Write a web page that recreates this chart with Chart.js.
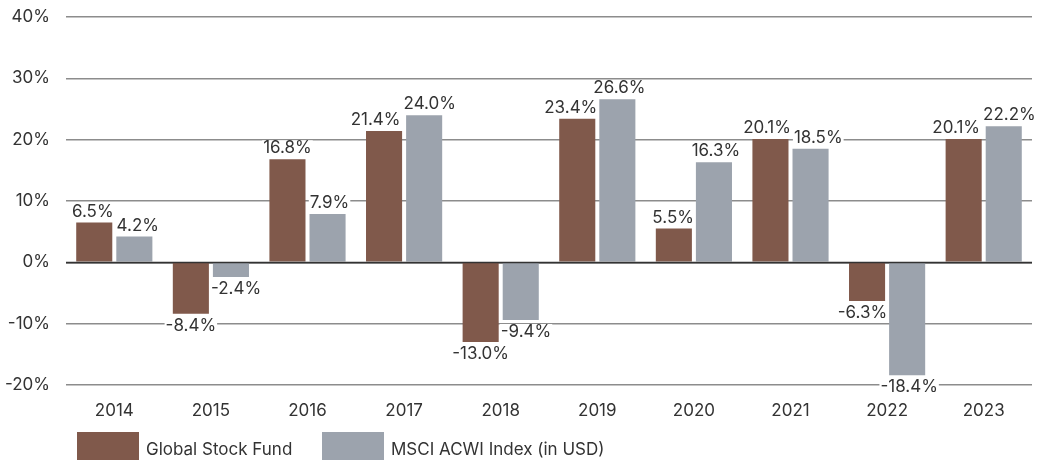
<!DOCTYPE html>
<html>
<head>
<meta charset="utf-8">
<script src="https://cdn.jsdelivr.net/npm/chart.js@4"></script>
<style>
  html, body { margin: 0; padding: 0; background: #fff; overflow: hidden; }
  #wrap { width: 1049px; height: 460px; }
</style>
</head>
<body>
<div id="wrap"><canvas id="charts"></canvas></div>
<script>
var years = ['2014', '2015', '2016', '2017', '2018', '2019', '2020', '2021', '2022', '2023'];
var fund = [6.5, -8.4, 16.8, 21.4, -13.0, 23.4, 5.5, 20.1, -6.3, 20.1];
var msci = [4.2, -2.4, 7.9, 24.0, -9.4, 26.6, 16.3, 18.5, -18.4, 22.2];
var seriesNames = ['Global Stock Fund', 'MSCI ACWI Index (in USD)'];

var FONT = 'Inter, "Liberation Sans", Arial, sans-serif';
var FS = 17;
var TEXT = '#333333';

function barRect(b) {
    return {
        l: b.x - b.width / 2, r: b.x + b.width / 2,
        t: Math.min(b.y, b.base), b: Math.max(b.y, b.base)
    };
}
function vOverlap(a, b) { return a.t < b.b && b.t < a.b; }

// value labels with a white box behind (they cut the grid lines)
var valueLabels = {
    id: 'valueLabels',
    afterDatasetsDraw: function (chart) {
        var c = chart.ctx;
        var y = chart.scales.y;
        var area = chart.chartArea;
        // zero line over the bars
        var z = Math.round(y.getPixelForValue(0)) + 0.5;
        c.save();
        c.strokeStyle = '#333';
        c.lineWidth = 1.5;
        c.beginPath();
        c.moveTo(area.left, z);
        c.lineTo(area.right, z);
        c.stroke();

        c.font = FS + 'px ' + FONT;
        c.textAlign = 'center';
        c.textBaseline = 'middle';
        var m0 = chart.getDatasetMeta(0), m1 = chart.getDatasetMeta(1);
        years.forEach(function (yr, i) {
            var bars = [m0.data[i], m1.data[i]];
            var vals = [fund[i], msci[i]];
            var labs = bars.map(function (b, k) {
                var txt = vals[k].toFixed(1) + '%';
                var w = c.measureText(txt).width;
                var ty = vals[k] >= 0 ? b.y - 11 : b.y + 12;
                return { txt: txt, w: w, x: b.x + (k === 1 ? 2 : 0), ty: ty, t: ty - 8, b: ty + 8 };
            });
            var r0 = barRect(bars[0]), r1 = barRect(bars[1]);
            // keep labels off the neighbouring bar
            var L0 = labs[0], L1 = labs[1];
            if (vOverlap(L0, r1) && L0.x + L0.w / 2 > r1.l - 2) L0.x = r1.l - 2 - L0.w / 2;
            if (vOverlap(L1, r0) && L1.x - L1.w / 2 < r0.r + 2) L1.x = r0.r + 2 + L1.w / 2;
            // and off each other
            if (vOverlap(L0, L1)) {
                var ov = (L0.x + L0.w / 2 + 3) - (L1.x - L1.w / 2);
                if (ov > 0) { L0.x -= ov / 2; L1.x += ov / 2; }
            }
            labs.forEach(function (L) {
                c.fillStyle = '#fff';
                c.fillRect(L.x - L.w / 2 - 1, L.ty - 8, L.w + 2, 16);
                c.fillStyle = TEXT;
                c.fillText(L.txt, L.x, L.ty);
            });
        });
        c.restore();
    }
};

// legend boxes along the bottom edge
var bottomLegend = {
    id: 'bottomLegend',
    afterDraw: function (chart) {
        var c = chart.ctx;
        var xs = [77, 322];
        c.save();
        c.font = FS + 'px ' + FONT;
        c.textBaseline = 'middle';
        c.textAlign = 'left';
        chart.data.datasets.forEach(function (ds, i) {
            c.fillStyle = ds.backgroundColor;
            c.fillRect(xs[i], 432, 62, 30);
            c.fillStyle = TEXT;
            c.fillText(ds.label, xs[i] + 69, 450);
        });
        c.restore();
    }
};

var ctx = document.getElementById('charts');
new Chart(ctx, {
    type: 'bar',
    data: {
        labels: years,
        datasets: [{
            label: seriesNames[0],
            backgroundColor: '#80594b',
            data: fund
        }, {
            label: seriesNames[1],
            backgroundColor: '#9ca3ad',
            data: msci
        }]
    },
    options: {
        responsive: true,
        maintainAspectRatio: false,
        animation: false,
        categoryPercentage: 0.83,
        barPercentage: 0.9,
        layout: { padding: { top: 17, right: 17, left: 0, bottom: 0 } },
        plugins: {
            legend: { display: false },
            tooltip: { enabled: false }
        },
        scales: {
            x: {
                grid: { display: false, drawTicks: false },
                border: { display: false },
                ticks: { color: TEXT, font: { family: FONT, size: FS }, padding: 16 },
                afterFit: function (s) { s.height = 75; }
            },
            y: {
                min: -20,
                max: 40,
                border: { display: false },
                grid: {
                    drawTicks: false,
                    lineWidth: 1.5,
                    color: function (c) { return c.tick && c.tick.value === 0 ? '#333' : '#8c8c8c'; }
                },
                ticks: {
                    stepSize: 10,
                    padding: 16,
                    color: TEXT,
                    font: { family: FONT, size: FS },
                    callback: function (v) { return v + '%'; }
                },
                afterFit: function (s) {
                    s.width = 66;
                    s.paddingTop = 0;
                    s.paddingBottom = 0;
                }
            }
        }
    },
    plugins: [valueLabels, bottomLegend]
});
</script>
</body>
</html>
